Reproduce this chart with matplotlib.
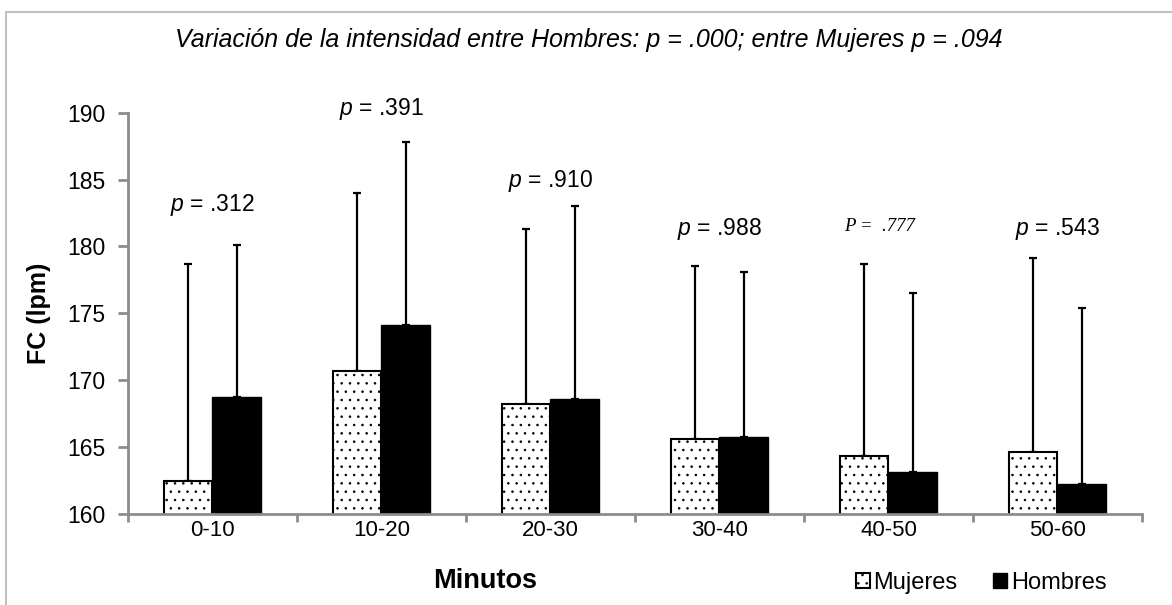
import numpy as np
import matplotlib.pyplot as plt
from matplotlib.patches import Patch, Rectangle

# datos: FC media (lpm) y desviación típica por tramo de 10 minutos
tramos = ['0-10', '10-20', '20-30', '30-40', '40-50', '50-60']
mujeres_media = [162.4, 170.7, 168.2, 165.6, 164.3, 164.6]
mujeres_sd = [16.3, 13.3, 13.1, 12.9, 14.4, 14.5]
hombres_media = [168.7, 174.1, 168.6, 165.7, 163.1, 162.2]
hombres_sd = [11.4, 13.7, 14.4, 12.4, 13.4, 13.2]
p_valores = ['.312', '.391', '.910', '.988', '.777', '.543']
p_y = [183.1, 190.3, 184.9, 181.3, 181.5, 181.3]

plt.rcParams['font.family'] = 'Liberation Sans'
plt.rcParams['mathtext.fontset'] = 'custom'
plt.rcParams['mathtext.it'] = 'Liberation Sans:italic'
plt.rcParams['mathtext.rm'] = 'Liberation Sans'
plt.rcParams['hatch.linewidth'] = 0.6

gris = '#8c8c8c'
fs = 16.5

fig = plt.figure(figsize=(11.72, 6.05), dpi=100)
ax = fig.add_axes([0.1092, 0.1512, 0.8652, 0.6625])

x = np.arange(len(tramos))
w = 0.287
ax.bar(x - w / 2, mujeres_media, w, color='white', edgecolor='black',
       linewidth=1.5, hatch='..', zorder=2)
ax.bar(x + w / 2, hombres_media, w, color='black', edgecolor='black', linewidth=1.0, zorder=2)

# solo la parte superior de la desviación típica
ax.errorbar(x - w / 2, mujeres_media, yerr=[np.zeros(len(x)), mujeres_sd], fmt='none',
            ecolor='black', elinewidth=1.6, capsize=3, capthick=1.6, zorder=1)
ax.errorbar(x + w / 2, hombres_media, yerr=[np.zeros(len(x)), hombres_sd], fmt='none',
            ecolor='black', elinewidth=1.6, capsize=3, capthick=1.6, zorder=1)

for i, (pv, py) in enumerate(zip(p_valores, p_y)):
    if pv == '.777':
        ax.text(i - 0.05, py, 'P =  ' + pv, ha='center', va='center', fontsize=13.5,
                family='Liberation Serif', style='italic')
    else:
        ax.text(i, py, r'$p$ = ' + pv, ha='center', va='center', fontsize=fs)

ax.set_ylim(160, 190)
ax.set_xlim(-0.5, len(tramos) - 0.5)
ax.set_yticks(range(160, 191, 5))
ax.set_xticks(x)
ax.set_xticklabels(tramos)
ax.set_xticks(np.arange(-0.5, len(tramos)), minor=True)
ax.tick_params(axis='x', which='major', length=0, pad=5, labelsize=16)
ax.tick_params(axis='x', which='minor', length=6, width=2, color=gris)
ax.tick_params(axis='y', length=7, width=2, color=gris, pad=9, labelsize=16.5)

for s in ['top', 'right']:
    ax.spines[s].set_visible(False)
for s in ['left', 'bottom']:
    ax.spines[s].set_color(gris)
    ax.spines[s].set_linewidth(2)

ax.set_ylabel('FC (lpm)', fontsize=18, fontweight='bold', labelpad=12)
fig.text(0.414, 0.018, 'Minutos', ha='center', va='bottom', fontsize=19.5, fontweight='bold')

fig.text(0.502, 0.934, 'Variación de la intensidad entre Hombres: p = .000; entre Mujeres p = .094',
         ha='center', va='center', fontsize=18, style='italic')

handles = [Patch(facecolor='white', edgecolor='black', hatch='..', linewidth=1.5),
           Patch(facecolor='black', edgecolor='black')]
fig.legend(handles, ['Mujeres', 'Hombres'], loc='center', bbox_to_anchor=(0.837, 0.036),
           ncol=2, frameon=False, fontsize=17, handlelength=0.6, handleheight=0.6,
           handletextpad=0.15, columnspacing=1.5)

# marco exterior
fig.patches.append(Rectangle((6 / 1172, -0.5), 2, 0.5 + 0.98, transform=fig.transFigure,
                             fill=False, edgecolor='#c0c0c0', linewidth=1.5))

plt.savefig('out.png', dpi=100)
